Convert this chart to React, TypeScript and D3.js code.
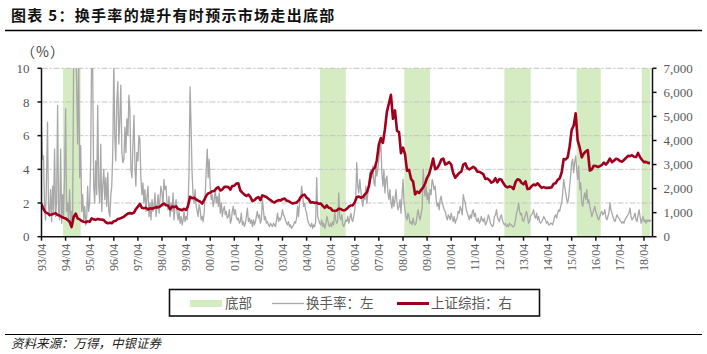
import React from 'react';
import * as d3 from 'd3';

// 上证综指 月度 (1993/04 - 2018/07)
const indexClose: number[] = [
  1360, 1150, 1010, 980, 900, 920, 950, 980, 900,
  880, 820, 790, 760, 700, 620, 400, 820, 960, 760, 720, 650,
  620, 600, 640, 620, 760, 720, 700, 740, 720, 710, 690, 600,
  560, 580, 560, 640, 660, 740, 760, 790, 830, 900, 960, 980,
  960, 1000, 1150, 1250, 1360, 1200, 1180, 1200, 1130, 1180, 1160, 1190,
  1230, 1220, 1250, 1330, 1380, 1310, 1300, 1150, 1250, 1230, 1260, 1150,
  1130, 1100, 1160, 1110, 1280, 1660, 1600, 1620, 1550, 1500, 1460, 1380,
  1530, 1700, 1800, 1830, 1890, 1900, 2000, 2060, 1920, 1960, 2070, 2070,
  2060, 1960, 2110, 2120, 2210, 2220, 1920, 1830, 1750, 1690, 1750, 1650,
  1480, 1520, 1600, 1650, 1520, 1720, 1680, 1650, 1580, 1520, 1460, 1420,
  1480, 1520, 1500, 1560, 1590, 1500, 1480, 1430, 1380, 1400, 1420, 1500,
  1640, 1720, 1750, 1620, 1560, 1420, 1430, 1400, 1420, 1370, 1380, 1280,
  1200, 1300, 1200, 1180, 1080, 1080, 1090, 1160, 1150, 1100, 1100, 1160,
  1250, 1300, 1300, 1440, 1640, 1670, 1620, 1650, 1760, 1840, 2100, 2600,
  2780, 2880, 3180, 3840, 4100, 3900, 4450, 5200, 5550, 5900, 4900, 5250,
  4400, 4350, 3470, 3700, 3430, 2740, 2780, 2400, 2290, 1760, 1870, 1820,
  1950, 2050, 2200, 2450, 2600, 2900, 3250, 2800, 2850, 3000, 3200, 3250,
  3000, 3050, 3100, 3000, 2650, 2450, 2550, 2650, 2700, 3000, 3050, 2850,
  2800, 2850, 2900, 2850, 2700, 2700, 2650, 2600, 2400, 2420, 2350, 2250,
  2290, 2430, 2260, 2400, 2370, 2220, 2100, 2050, 2090, 2070, 1980, 2270,
  2390, 2360, 2240, 2180, 2300, 1980, 1990, 2100, 2170, 2140, 2220, 2120,
  2030, 2060, 2030, 2030, 2040, 2050, 2200, 2220, 2360, 2420, 2680, 3230,
  3210, 3310, 3750, 4440, 4610, 5130, 4000, 3700, 3300, 3450, 3550, 3600,
  2750, 2800, 2950, 2940, 2900, 2930, 2980, 3080, 3000, 3100, 3250, 3100,
  3160, 3240, 3220, 3150, 3120, 3190, 3270, 3360, 3350, 3390, 3320, 3310,
  3480, 3300, 3200, 3100, 3110, 3070, 3060,
];

// 换手率 (%) 半月 (1993/04 - 2018/07)
const turnover: number[] = [
  6.5, 4.6, 4.8, 2.0, 1.0, 3.5, 6.8, 1.8, 1.2, 2.8, 0.9, 3.0, 1.5, 5.2, 1.2, 2.0, 7.8, 1.5,
  1.0, 5.2, 0.8, 2.5, 1.2, 3.5, 7.6, 1.5, 2.0, 1.0, 2.8, 0.9, 1.5, 0.8, 10.5, 12, 12, 9.0, 5.5, 10.5, 3.5, 5.4, 1.5, 2.5,
  1.0, 1.8, 0.7, 1.2, 3.0, 1.5, 2.0, 4.5, 11, 10.5, 3.0, 2.0, 4.5, 2.5, 7.8, 3.0, 2.0, 5.5, 1.5, 3.0, 4.0, 2.2, 3.5, 1.8,
  3.8, 1.5, 1.2, 2.5, 3.0, 5.0, 10.5, 6.0, 4.5, 8.0, 9.2, 5.5, 7.0, 9.0, 5.0, 4.4, 4.6, 6.5, 5.0, 7.0, 6.0, 8.4, 7.5, 4.0,
  3.5, 5.5, 7.2, 4.0, 3.0, 5.0, 4.5, 6.0, 5.8, 3.5, 2.5, 3.2, 2.0, 2.8, 1.5, 2.4, 3.0, 1.2, 2.0, 1.0, 2.2, 1.5, 1.8, 2.6,
  1.2, 1.8, 2.5, 1.4, 2.2, 3.0, 2.6, 1.8, 3.4, 2.8, 3.0, 2.0, 1.6, 2.4, 1.2, 2.0, 1.5, 2.6, 1.0, 1.8, 2.2, 1.4, 1.0, 1.5,
  0.8, 1.2, 0.7, 1.0, 1.5, 0.9, 1.2, 1.0, 1.8, 4.0, 8.9, 6.5, 3.8, 2.5, 2.0, 2.8, 1.8, 1.5, 1.2, 1.9, 1.6, 1.0, 1.2, 0.9,
  1.5, 2.5, 4.0, 5.2, 3.5, 4.6, 3.0, 2.2, 2.5, 1.8, 2.2, 2.8, 2.0, 2.4, 1.8, 2.6, 1.4, 2.0, 1.2, 1.6, 1.8, 1.3, 1.5, 1.1,
  1.2, 1.6, 0.8, 1.0, 1.5, 1.8, 1.3, 1.6, 1.2, 1.0, 1.1, 0.8, 0.9, 1.4, 0.7, 0.9, 0.6, 0.8, 1.2, 1.7, 0.9, 1.1, 0.8, 1.0,
  0.6, 1.0, 0.7, 0.9, 1.2, 1.5, 1.1, 1.3, 0.8, 1.0, 2.2, 1.6, 1.0, 1.2, 0.8, 0.9, 0.7, 0.6, 0.8, 0.7, 0.6, 0.8, 0.7, 0.6,
  1.0, 1.4, 0.9, 1.1, 1.0, 1.2, 1.6, 1.3, 1.2, 1.0, 0.8, 0.7, 0.9, 0.6, 0.7, 0.5, 0.6, 0.7, 0.9, 0.8, 1.1, 1.8, 1.2, 2.0,
  2.2, 3.0, 2.5, 1.8, 2.0, 1.6, 1.4, 1.0, 0.8, 0.7, 0.6, 0.8, 0.5, 0.7, 0.6, 0.9, 3.5, 1.2, 1.0, 0.8, 0.7, 1.0, 0.6, 0.8,
  0.5, 0.7, 1.2, 1.0, 0.7, 0.6, 0.8, 0.6, 0.9, 0.7, 1.5, 1.0, 0.8, 0.9, 2.6, 1.2, 1.0, 1.3, 0.7, 0.6, 0.8, 1.0, 0.9, 1.2,
  0.8, 1.1, 1.4, 1.0, 0.9, 1.2, 1.6, 2.4, 4.4, 3.0, 2.6, 3.4, 2.8, 2.2, 1.8, 2.5, 2.2, 3.0, 2.0, 2.6, 3.2, 3.8, 4.0, 3.5,
  4.2, 3.2, 3.0, 4.4, 3.6, 4.0, 4.6, 5.2, 5.6, 3.8, 3.0, 4.0, 2.6, 3.4, 3.6, 2.6, 2.2, 2.8, 2.0, 1.7, 2.4, 1.8, 2.2, 2.8,
  2.0, 1.6, 1.8, 2.2, 1.4, 2.4, 3.4, 2.0, 1.6, 1.2, 1.0, 1.4, 1.2, 0.8, 0.9, 0.7, 1.1, 0.8, 0.7, 0.8, 1.3, 1.6, 1.2, 1.0,
  1.4, 1.7, 4.0, 2.8, 2.4, 3.0, 2.2, 2.6, 2.0, 2.8, 2.5, 3.4, 3.2, 2.8, 3.0, 2.2, 1.8, 2.0, 1.6, 2.2, 2.4, 2.0, 1.8, 1.6,
  1.5, 1.2, 1.0, 1.3, 1.2, 1.0, 1.4, 1.1, 0.9, 1.2, 0.8, 1.0, 1.1, 1.5, 1.4, 1.8, 1.6, 1.3, 2.5, 2.2, 2.0, 1.6, 1.4, 1.2,
  1.0, 1.3, 1.1, 1.5, 1.6, 1.2, 1.4, 1.0, 0.9, 1.1, 0.8, 0.9, 1.2, 1.0, 0.9, 1.1, 0.7, 0.8, 1.0, 1.3, 1.1, 0.8, 0.7, 0.6,
  0.7, 1.2, 1.3, 1.6, 1.2, 1.0, 0.9, 1.2, 1.3, 1.0, 0.8, 0.7, 0.8, 0.6, 0.7, 0.6, 0.8, 0.7, 0.7, 0.6, 0.6, 0.7, 1.0, 1.4,
  1.6, 2.0, 1.5, 1.3, 1.4, 1.0, 0.9, 1.1, 1.3, 1.5, 1.2, 0.8, 0.9, 1.2, 1.3, 1.4, 1.6, 1.2, 1.1, 1.4, 1.0, 1.2, 0.9, 0.8,
  0.9, 1.0, 1.2, 1.1, 1.0, 0.8, 0.9, 0.7, 0.7, 0.8, 0.8, 0.7, 0.9, 1.2, 1.3, 1.1, 1.4, 1.6, 1.5, 1.8, 2.0, 2.6, 3.4, 3.0,
  2.6, 2.2, 2.0, 2.4, 3.0, 3.6, 4.4, 4.6, 3.8, 4.4, 4.8, 4.0, 3.4, 4.2, 2.8, 3.2, 2.0, 1.8, 2.3, 2.6, 2.2, 2.8, 2.0, 2.2,
  1.8, 1.5, 1.2, 1.4, 1.6, 1.8, 1.5, 1.3, 1.1, 1.0, 1.2, 1.4, 1.5, 1.3, 1.4, 1.6, 1.1, 1.0, 1.2, 1.4, 2.0, 1.6, 1.4, 1.2,
  1.0, 0.9, 1.1, 1.3, 1.2, 1.1, 1.0, 0.9, 0.8, 0.9, 0.8, 1.0, 1.1, 1.2, 1.3, 1.4, 1.7, 1.2, 1.0, 1.1, 1.2, 1.4, 1.0, 0.9,
  1.3, 1.6, 1.2, 0.8, 1.0, 1.2, 0.9, 1.0, 0.8, 1.0, 0.9, 1.0, 0.9, 1.0,
];

// 底部区间
const bottomStarts = ['1994-02-21', '2004-10-21', '2008-04-21', '2012-06-15', '2015-06-15', '2018-02-27'];
const bottomEnds = ['1994-11-15', '2005-11-15', '2009-05-15', '2013-07-18', '2016-06-15', '2018-07-05'];

const yearTicks = d3.range(1993, 2019);
const leftTicks = [0, 2, 4, 6, 8, 10];
const rightTicks = [0, 1000, 2000, 3000, 4000, 5000, 6000, 7000];

const W = 707;
const H = 354;
const plot = { left: 41.5, right: 652.5, top: 68.3, bottom: 236.7 };

const GREEN = '#d5ebc2';
const GRAY = '#a8a8a8';
const RED = '#a0001e';
const serif = '"Liberation Serif", "DejaVu Serif", serif';
const cjk = '"Noto Sans CJK SC", sans-serif';

export default function App() {
  const x = d3.scaleTime()
    .domain([new Date(1993, 3, 1), new Date(2018, 7, 8)])
    .range([plot.left, plot.right]);
  const yL = d3.scaleLinear().domain([0, 10]).range([plot.bottom, plot.top]);
  const yR = d3.scaleLinear().domain([0, 7000]).range([plot.bottom, plot.top]);

  const idxPts = indexClose.map((v, i) => ({ d: new Date(1993, 3 + i, 1), v }));
  const toPts = turnover.map((v, j) => ({ d: new Date(1993, 3 + Math.floor(j / 2), j % 2 ? 16 : 1), v }));

  const redLine = d3.line<{ d: Date; v: number }>().x(p => x(p.d)).y(p => yR(p.v));
  const grayLine = d3.line<{ d: Date; v: number }>().x(p => x(p.d)).y(p => yL(p.v));

  const parse = d3.timeParse('%Y-%m-%d');

  return (
    <svg width={W} height={H} style={{ position: 'absolute', left: 0, top: 0, background: '#fff' }}>
      <defs>
        <clipPath id="plotClip">
          <rect x={plot.left} y={plot.top} width={plot.right - plot.left} height={plot.bottom - plot.top} />
        </clipPath>
      </defs>

      {/* 标题 */}
      <text x={11} y={21} fontFamily={cjk} fontWeight={700} fontSize={15} letterSpacing={1.3} fill="#111">图表 5：换手率的提升有时预示市场走出底部</text>
      <line x1={5} x2={702} y1={30.5} y2={30.5} stroke="#000" strokeWidth={1.3} />

      <text x={21} y={57} fontFamily={cjk} fontSize={14} letterSpacing={1} fill="#444">（%）</text>

      {/* 底部区间 */}
      {bottomStarts.map((s, i) => {
        const x0 = x(parse(s)!);
        const x1 = Math.min(x(parse(bottomEnds[i])!), plot.right);
        return <rect key={s} x={x0} y={plot.top} width={x1 - x0} height={plot.bottom - plot.top} fill={GREEN} />;
      })}

      {/* 网格线 */}
      {leftTicks.filter(t => t > 0).map(t => (
        <line key={t} x1={plot.left} x2={plot.right} y1={yL(t)} y2={yL(t)}
          stroke="#c4c4c4" strokeWidth={1} strokeDasharray="6,2,2,2" />
      ))}

      <g clipPath="url(#plotClip)">
        <path d={grayLine(toPts) ?? ''} fill="none" stroke={GRAY} strokeWidth={1.3} strokeLinejoin="round" />
        <path d={redLine(idxPts) ?? ''} fill="none" stroke={RED} strokeWidth={2.6} strokeLinejoin="round" />
      </g>

      {/* 左轴 */}
      <line x1={plot.left} x2={plot.left} y1={plot.top} y2={plot.bottom} stroke="#111" strokeWidth={1.5} />
      {leftTicks.map(t => (
        <g key={t}>
          <line x1={plot.left - 4} x2={plot.left} y1={yL(t)} y2={yL(t)} stroke="#111" strokeWidth={1.5} />
          <text x={plot.left - 12} y={yL(t)} dy="0.35em" textAnchor="end" fontFamily={serif} fontSize={13} fill="#595959">{t}</text>
        </g>
      ))}

      {/* 右轴 */}
      <line x1={plot.right} x2={plot.right} y1={plot.top} y2={plot.bottom} stroke="#111" strokeWidth={1.5} />
      {rightTicks.map(t => (
        <g key={t}>
          <line x1={plot.right} x2={plot.right + 4} y1={yR(t)} y2={yR(t)} stroke="#111" strokeWidth={1.5} />
          <text x={plot.right + 11} y={yR(t)} dy="0.35em" textAnchor="start" fontFamily={serif} fontSize={13} fill="#595959">{d3.format(',')(t)}</text>
        </g>
      ))}

      {/* 横轴 */}
      <line x1={plot.left} x2={plot.right} y1={plot.bottom} y2={plot.bottom} stroke="#111" strokeWidth={1.5} />
      {yearTicks.map(yr => {
        const xp = x(new Date(yr, 3, 1));
        return (
          <g key={yr}>
            <line x1={xp} x2={xp} y1={plot.bottom} y2={plot.bottom + 4} stroke="#111" strokeWidth={1.5} />
            <text transform={`translate(${xp},${plot.bottom + 7}) rotate(-90)`} textAnchor="end" dy="0.35em"
              fontFamily={serif} fontSize={12} fill="#595959">{`${String(yr % 100).padStart(2, '0')}/04`}</text>
          </g>
        );
      })}

      {/* 图例 */}
      <rect x={169.5} y={289.5} width={370} height={26.5} fill="#fff" stroke="#111" strokeWidth={1.6} />
      <rect x={190} y={300} width={32} height={7} fill={GREEN} />
      <text x={225} y={303} dy="0.35em" fontFamily={cjk} fontSize={13.5} fill="#595959">底部</text>
      <line x1={272} x2={304} y1={303.5} y2={303.5} stroke={GRAY} strokeWidth={1.3} />
      <text x={306} y={303} dy="0.35em" fontFamily={cjk} fontSize={13.5} fill="#595959">换手率：左</text>
      <line x1={397} x2={429} y1={303.5} y2={303.5} stroke={RED} strokeWidth={3} />
      <text x={431} y={303} dy="0.35em" fontFamily={cjk} fontSize={13.5} fill="#595959">上证综指：右</text>

      {/* 资料来源 */}
      <line x1={5} x2={702} y1={334.5} y2={334.5} stroke="#000" strokeWidth={1.2} />
      <text x={11} y={348} fontFamily={cjk} fontStyle="italic" fontSize={12.5} fill="#222">资料来源：万得，中银证券</text>
    </svg>
  );
}
